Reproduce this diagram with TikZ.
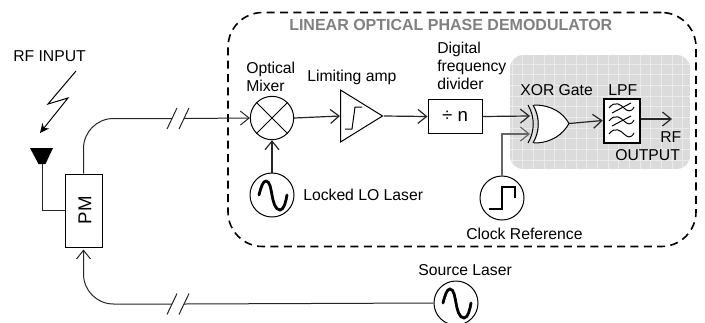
\documentclass[tikz,border=0pt]{standalone}
\usepackage{fontspec}
\setmainfont{Liberation Sans}
\usetikzlibrary{arrows.meta,shapes.geometric}
\tikzset{
  >={Straight Barb[length=6.5pt,width=10.5pt]},
  line/.style={line width=0.75pt,black!85},
  sigline/.style={->,line width=0.9pt,black!85},
  lbl/.style={anchor=west,inner sep=0pt,align=left,font=\fontsize{11.8}{13.5}\selectfont},
  srccircle/.style={circle,draw,line width=0.75pt,minimum size=33pt,inner sep=0pt},
  wave/.style={line width=2.1pt,line cap=round},
  slash/.style={line width=0.75pt,black!85}
}
\begin{document}
\begin{tikzpicture}[x=0.75pt,y=-0.75pt]
  \path[use as bounding box,clip] (0,0) rectangle (705,322);
  % demodulator frame
  \node[draw,dashed,line width=1.2pt,dash pattern=on 6pt off 4pt,rounded corners=26pt,minimum width=351pt,minimum height=175.5pt,inner sep=0pt] (frame) at (462,129.5) {};
  \node[lbl,font=\fontsize{12}{14}\selectfont\bfseries,text=black!50] (title) at (289,25) {LINEAR OPTICAL PHASE DEMODULATOR};
  % grey panel
  \begin{scope}
    \path[clip,rounded corners=10pt] (510,55) rectangle (690,169);
    \fill[black!14] (510,55) rectangle (690,169);
    \draw[black!8,line width=0.5pt,step=8pt] (510,55) grid (690,169);
  \end{scope}
  % components
  \node[draw,line width=0.75pt,minimum width=27.75pt,minimum height=54.75pt,inner sep=0pt] (pm) at (83.5,210.5) {};
  \node[rotate=90,inner sep=0pt,font=\fontsize{14}{16}\selectfont] (pmlbl) at (85,210) {PM};
  \node[circle,draw,line width=0.75pt,minimum size=32.5pt,inner sep=0pt] (mix) at (272,118) {};
  \draw[line width=0.75pt] (mix.north west) -- (mix.south east) (mix.north east) -- (mix.south west);
  \node[isosceles triangle,isosceles triangle stretches,draw,line width=0.75pt,minimum width=39pt,minimum height=31.5pt,inner sep=0pt,anchor=west] (amp) at (340,116) {};
  \draw[line width=0.75pt] (345,129) -- (352,129) -- (355,107) -- (362,107);
  \node[draw,line width=0.75pt,minimum width=40.5pt,minimum height=26pt,inner sep=0pt,font=\fontsize{14}{16}\selectfont] (div) at (455,116.5) {÷ n};
  \node[srccircle] (lo) at (272,195) {};
  \node[srccircle] (clk) at (502,198) {};
  \node[srccircle] (src) at (456,303) {};
  \node[draw,fill=white,line width=1.5pt,minimum width=27.5pt,minimum height=33pt,inner sep=0pt] (lpf) at (622,120.5) {};
  \foreach \c in {lo,src} {
    \begin{scope}[shift={(\c)}]
      \draw[wave] (-13,0) .. controls (-11,-8) and (-9,-14) .. (-6,-14) .. controls (-2,-14) and (-1,-5) .. (0,0)
        .. controls (1,6) and (3,15) .. (8,15) .. controls (12,15) and (14,6) .. (15,0);
    \end{scope}
  }
  \begin{scope}[shift={(clk)}]
    \draw[line width=1.3pt] (-13,11) -- (0,11) -- (0,-11) -- (13,-11) -- (13,0);
  \end{scope}
  % filter curves
  \foreach \y in {108,121,134} {
    \draw[line width=0.75pt] (609,\y) .. controls (615,\y-8) and (621,\y-3) .. (624,\y) .. controls (627,\y+3) and (631,\y+5) .. (634,\y-1);
  }
  \foreach \y in {108,121} {
    \draw[line width=0.75pt] (612,\y+5) -- (631,\y-5);
  }
  % xor gate
  \coordinate (xorina) at (530,116);
  \coordinate (xorinb) at (530,134);
  \coordinate (xorout) at (569,123.5);
  \fill[white] (534,105) .. controls (552,105) and (563,113) .. (xorout) .. controls (563,134) and (552,143) .. (534,143) .. controls (541,131) and (541,117) .. (534,105);
  \draw[line width=0.75pt] (534,105) .. controls (552,105) and (563,113) .. (xorout) .. controls (563,134) and (552,143) .. (534,143);
  \draw[line width=0.75pt] (533,105) .. controls (540,117) and (540,131) .. (533,143);
  \draw[line width=0.75pt] (528,105) .. controls (535,117) and (535,131) .. (528,143);
  % antenna
  \coordinate (anttip) at (42,164);
  \coordinate (antin) at (40,133);
  \fill (30,148) -- (53,148) -- (45.5,164) -- (38.5,164) -- cycle;
  \draw[line] (anttip) |- (pm.west);
  \draw[-{Stealth[length=7pt,width=6.5pt]},line width=0.75pt] (76,71) -- (48,104) -- (68,98) -- (antin);
  % connectors
  \coordinate (brkua) at (172,118.5);
  \coordinate (brkub) at (184,118.5);
  \coordinate (brkla) at (172,304);
  \coordinate (brklb) at (184,304);
  \draw[line,rounded corners=22.5pt] (pm.north) |- (brkua);
  \draw[sigline,line width=0.75pt] (brkub) -- (mix.west);
  \draw[line] (src.west) -- (brklb);
  \draw[sigline,line width=0.75pt,rounded corners=22.5pt,shorten >=1.5pt] (brkla) -| (pm.south);
  \foreach \c in {brkua,brkub,brkla,brklb} {
    \draw[slash] ([shift={(-5,10.5)}]\c) -- ([shift={(5,-10.5)}]\c);
  }
  \draw[sigline] (mix.east) -- (amp.west);
  \draw[sigline] (amp.apex) -- (div.west);
  \draw[sigline] (lo.north) -- (mix.south);
  \draw[sigline] (div.east) -- (xorina);
  \draw[sigline,black!60] (clk.north) |- (xorinb);
  \draw[sigline] (xorout) -- (lpf.west);
  \coordinate (rfout) at (672,119);
  \draw[sigline] (lpf.east |- rfout) -- (rfout);
  % labels
  \node[lbl] (rfin) at (13,56) {RF INPUT};
  \node[lbl] (mixlbl) at (246,77) {Optical\\Mixer};
  \node[lbl] (amplbl) at (307,77) {Limiting amp};
  \node[lbl] (divlbl) at (437,66) {Digital\\frequency\\divider};
  \node[lbl] (xorlbl) at (520,90) {XOR Gate};
  \node[lbl] (lpflbl) at (608,90) {LPF};
  \node[lbl] (rflbl) at (660,137) {RF};
  \node[lbl] (outlbl) at (615,155) {OUTPUT};
  \node[lbl] (lolbl) at (303,195) {Locked LO Laser};
  \node[lbl] (clklbl) at (466,234) {Clock Reference};
  \node[lbl] (srclbl) at (418,270) {Source Laser};
\end{tikzpicture}
\end{document}
